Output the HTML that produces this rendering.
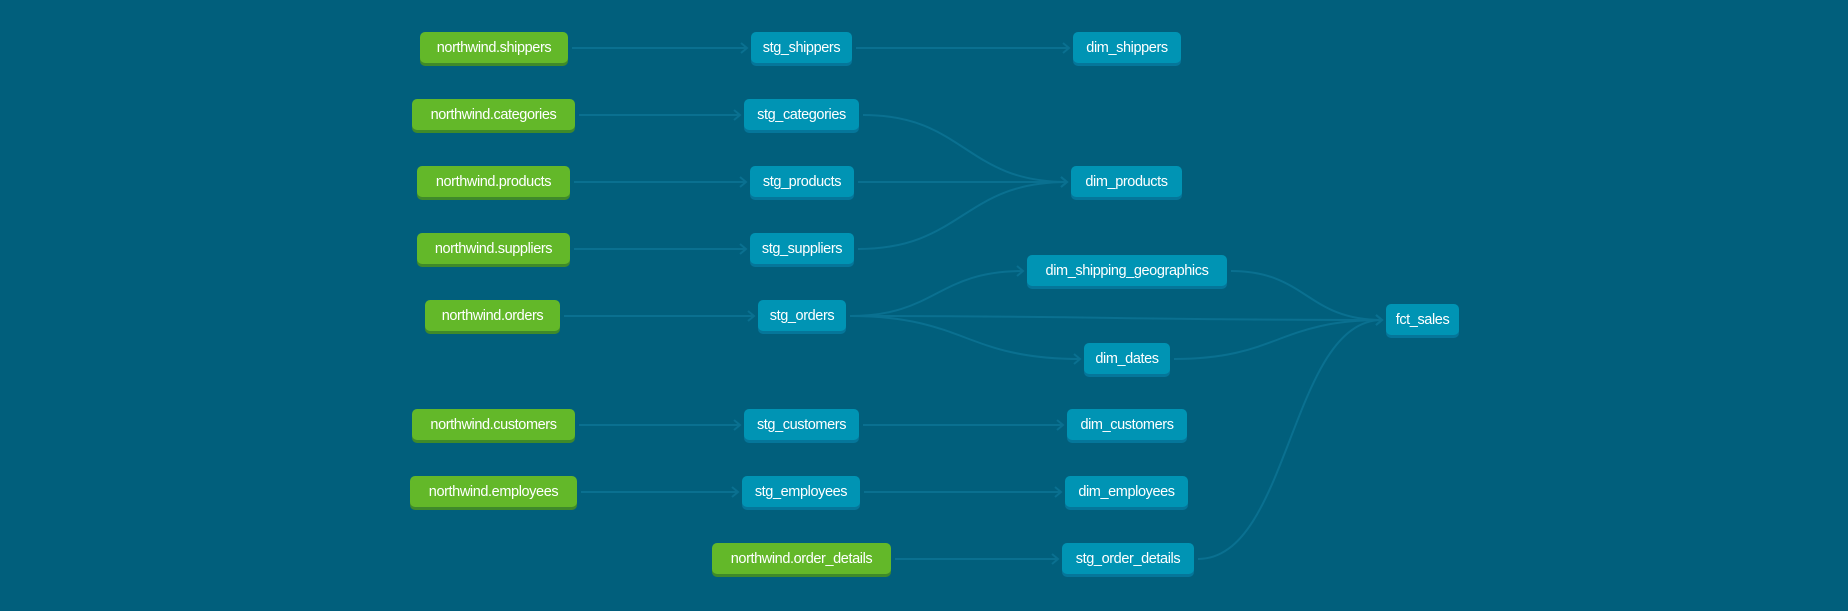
<!DOCTYPE html>
<html><head><meta charset="utf-8"><style>
html,body{margin:0;padding:0;background:#015f7c;width:1848px;height:611px;overflow:hidden}
svg{position:absolute;left:0;top:0}
.node{position:absolute;height:31px;border-radius:5px;color:#fff;font-family:"Liberation Sans",sans-serif;font-size:14.5px;line-height:33px;text-align:center;white-space:nowrap;letter-spacing:-0.4px}
.src{background:#63b829;box-shadow:0 3px 0 #3f8a2a}
.mdl{background:#0094b4;box-shadow:0 3px 0 #05769a}
</style></head><body>
<svg id="edges" width="1848" height="611"></svg>
<div id="nodes"></div>
<script>
const nodeNames=["northwind.shippers","northwind.categories","northwind.products","northwind.suppliers","northwind.orders","northwind.customers","northwind.employees","northwind.order_details","stg_shippers","stg_categories","stg_products","stg_suppliers","stg_orders","stg_customers","stg_employees","stg_order_details","dim_shippers","dim_products","dim_shipping_geographics","dim_dates","dim_customers","dim_employees","fct_sales"];
const nodeX1=[420,412,417,417,425,412,410,712,751,744,750,750,758,744,742,1062,1073,1071,1027,1084,1067,1065,1386];
const nodeX2=[568,575,570,570,560,575,577,891,852,859,854,854,846,859,860,1194,1181,1182,1227,1170,1187,1188,1459];
const nodeY=[48,115,182,249,316,425,492,559,48,115,182,249,316,425,492,559,48,182,271,359,425,492,320];
const edgeFrom=[0,1,2,3,4,5,6,7,8,9,10,11,12,12,12,13,14,15,18,19];
const edgeTo=[8,9,10,11,12,13,14,15,16,17,17,17,18,19,22,20,21,22,22,22];
const svg=document.getElementById('edges');
const NS='http://www.w3.org/2000/svg';
edgeFrom.forEach((f,i)=>{
  const t=edgeTo[i];
  const x1=nodeX2[f]+4,y1=nodeY[f],x2=nodeX1[t]-4,y2=nodeY[t];
  const dx=(x2-x1)/2;
  const p=document.createElementNS(NS,'path');
  p.setAttribute('d',`M${x1},${y1} C${x1+dx},${y1} ${x2-dx},${y2} ${x2},${y2}`);
  p.setAttribute('fill','none');p.setAttribute('stroke','#0a7090');p.setAttribute('stroke-width','2');
  
  
  svg.appendChild(p);
  const a=document.createElementNS(NS,'path');
  a.setAttribute('d',`M${x2-6},${y2-5} L${x2},${y2} L${x2-6},${y2+5}`);
  a.setAttribute('fill','none');a.setAttribute('stroke','#0a7090');a.setAttribute('stroke-width','2');
  
  
  svg.appendChild(a);
});
const wrap=document.getElementById('nodes');
nodeNames.forEach((n,i)=>{
  const d=document.createElement('div');
  d.className='node '+(n.startsWith('northwind')?'src':'mdl');
  d.style.left=nodeX1[i]+'px';d.style.width=(nodeX2[i]-nodeX1[i])+'px';d.style.top=(nodeY[i]-16)+'px';
  d.textContent=n;
  
  
  wrap.appendChild(d);
});
</script>
</body></html>
